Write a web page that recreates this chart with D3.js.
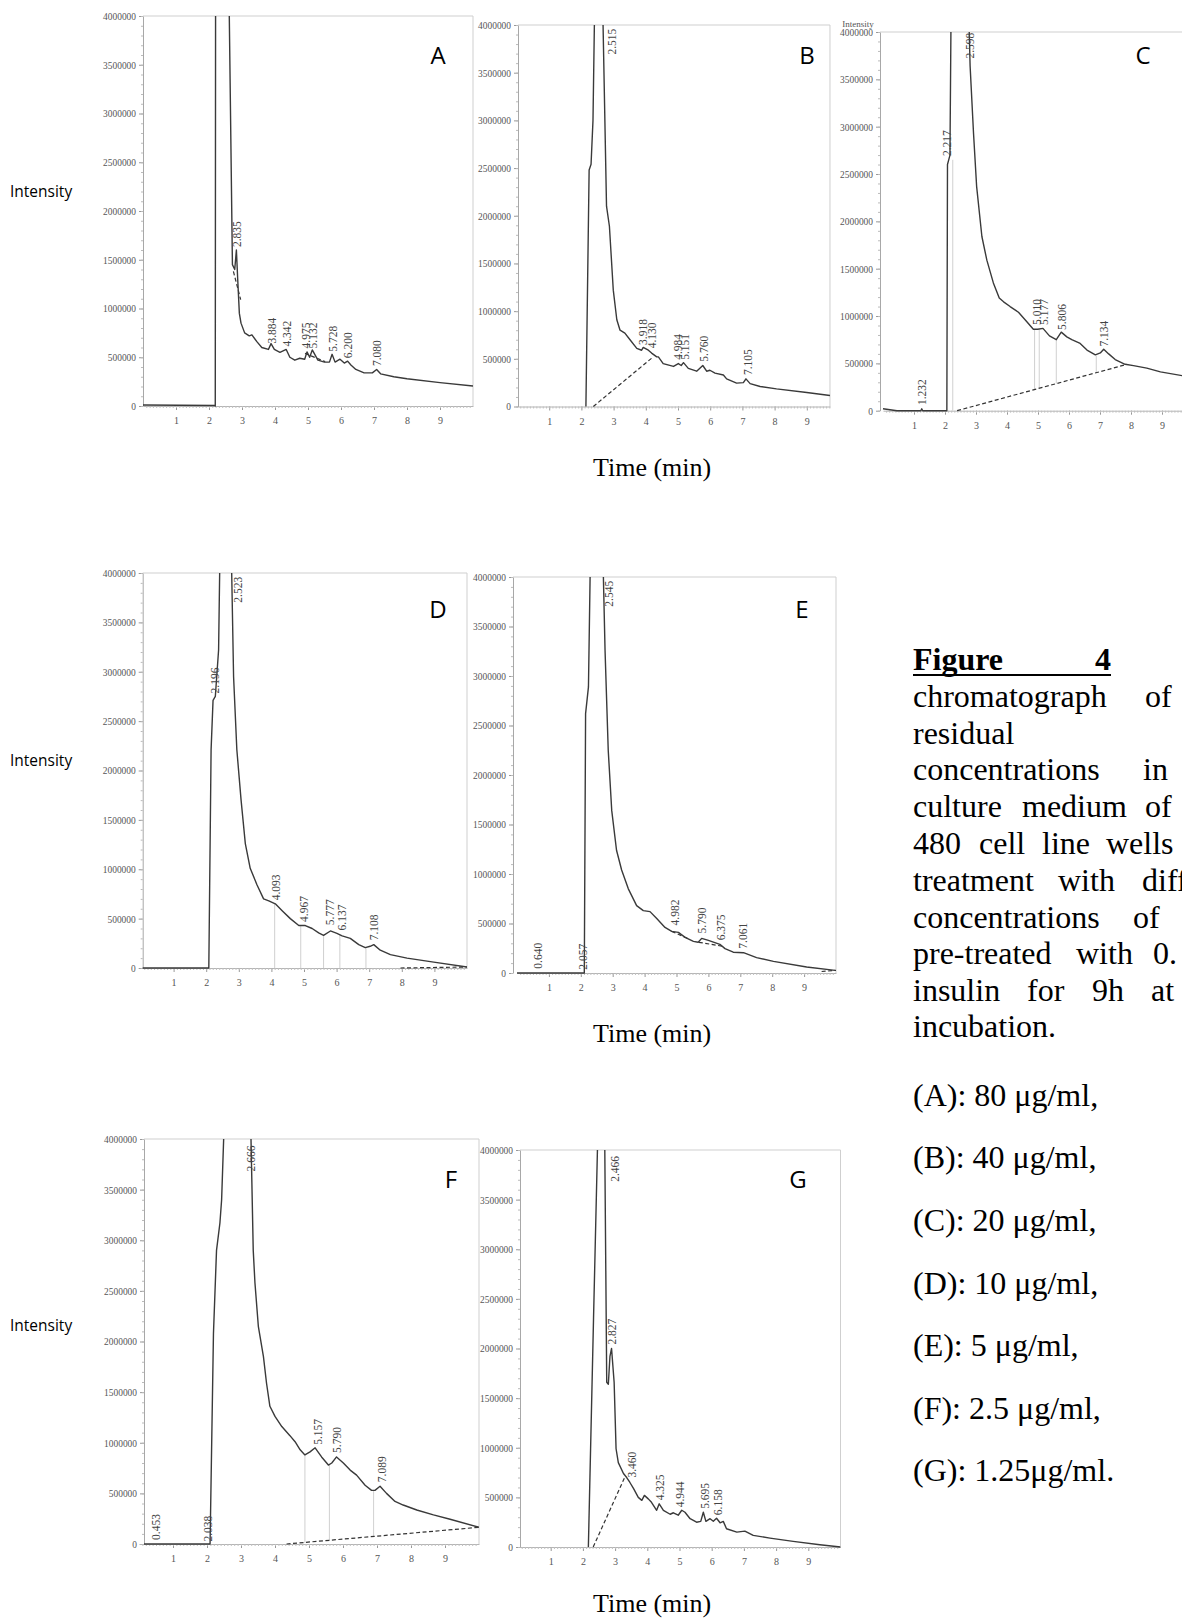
<!DOCTYPE html>
<html lang="en">
<head>
<meta charset="UTF-8">
<title>Figure 4 - chromatographs</title>
<script src="https://d3js.org/d3.v7.min.js"></script>
<style>
  body { margin: 0; background: #fff; }
  .trace { fill: none; stroke: #3a3a3a; stroke-width: 1.4; stroke-linejoin: round; }
  .base { fill: none; stroke: #333; stroke-width: 1.2; stroke-dasharray: 4,2.5; }
  .drop { stroke: #c4c4c4; stroke-width: 0.8; }
  .frame { stroke: #cfcfcf; stroke-width: 1; }
  .peak { font-family: "Liberation Serif", serif; font-size: 11.5px; fill: #444; }
  .tick text { font-family: "Liberation Serif", serif; fill: #555; }
  .caption { font-family: "Liberation Serif", serif; font-size: 32px; fill: #000; }
  .ylab { font-family: "Open Sans", sans-serif; font-size: 15.5px; fill: #000; }
  .letter { font-family: "Open Sans", sans-serif; font-size: 24px; fill: #000; }
  .xtitle { font-family: "Liberation Serif", serif; font-size: 26px; fill: #000; }
</style>
</head>
<body>
<div id="chart"></div>
<script>
// ---- data ----
const yTicks = [0, 500000, 1000000, 1500000, 2000000, 2500000, 3000000, 3500000, 4000000];
const xTicks = [1, 2, 3, 4, 5, 6, 7, 8, 9];

// traces: [time (min), intensity]; values above 4000000 are cut at the frame
const traceA = [[0,10000],[2.17,5000],[2.19,0],[2.20,4400000],[2.60,4400000],[2.71,1450000],[2.78,1400000],[2.83,1600000],[2.87,1300000],[2.92,950000],[2.97,850000],[3.08,750000],[3.22,720000],[3.30,730000],[3.45,660000],[3.60,600000],[3.80,580000],[3.88,640000],[3.98,580000],[4.15,550000],[4.34,580000],[4.45,500000],[4.60,470000],[4.75,490000],[4.90,480000],[4.97,555000],[5.05,500000],[5.13,575000],[5.30,470000],[5.50,450000],[5.65,450000],[5.73,530000],[5.82,450000],[5.97,480000],[6.10,440000],[6.20,460000],[6.30,420000],[6.45,375000],[6.70,340000],[6.95,340000],[7.08,375000],[7.20,330000],[7.60,300000],[8.0,280000],[9.0,240000],[10.0,205000]];
const traceB = [[2.14,0],[2.24,2480000],[2.30,2540000],[2.36,3000000],[2.42,4400000],[2.65,4400000],[2.78,2100000],[2.87,1890000],[2.99,1220000],[3.10,910000],[3.20,800000],[3.35,770000],[3.51,700000],[3.72,610000],[3.87,590000],[3.92,620000],[4.08,590000],[4.18,560000],[4.34,520000],[4.39,520000],[4.54,450000],[4.86,420000],[5.01,450000],[5.10,430000],[5.17,460000],[5.32,400000],[5.58,370000],[5.77,430000],[5.89,370000],[5.99,380000],[6.15,350000],[6.41,330000],[6.51,290000],[6.82,245000],[7.03,250000],[7.11,290000],[7.24,240000],[7.55,210000],[8.06,185000],[9.0,147000],[9.72,115000]];
const traceC = [[0,20000],[0.45,0],[1.22,0],[1.25,20000],[1.28,0],[2.06,0],[2.08,2600000],[2.12,2650000],[2.16,2700000],[2.20,4400000],[2.75,4400000],[2.81,3640000],[2.92,2930000],[3.02,2370000],[3.19,1840000],[3.35,1590000],[3.56,1350000],[3.75,1190000],[3.89,1150000],[4.10,1100000],[4.37,1040000],[4.64,940000],[4.85,860000],[4.99,860000],[5.16,870000],[5.37,790000],[5.59,750000],[5.75,830000],[5.93,780000],[6.09,750000],[6.36,710000],[6.58,640000],[6.85,590000],[7.01,610000],[7.12,650000],[7.28,600000],[7.49,540000],[7.81,490000],[8.08,476000],[8.51,450000],[8.95,410000],[9.66,370000]];
const traceD = [[0,0],[2.08,0],[2.15,2210000],[2.21,2710000],[2.28,2750000],[2.38,3220000],[2.43,4400000],[2.76,4400000],[2.84,2950000],[2.94,2210000],[3.07,1700000],[3.20,1260000],[3.35,1010000],[3.56,840000],[3.76,700000],[3.92,680000],[4.12,650000],[4.33,580000],[4.58,500000],[4.84,430000],[5.04,430000],[5.25,400000],[5.45,355000],[5.60,330000],[5.81,375000],[6.01,350000],[6.17,325000],[6.42,300000],[6.68,237000],[6.88,206000],[7.03,220000],[7.14,237000],[7.34,180000],[7.65,135000],[8.16,100000],[8.98,60000],[10.0,10000]];
const traceE = [[0,0],[2.11,0],[2.15,2620000],[2.24,2890000],[2.31,4400000],[2.68,4400000],[2.76,3260000],[2.86,2250000],[2.97,1640000],[3.12,1240000],[3.28,1040000],[3.49,850000],[3.75,680000],[3.96,630000],[4.17,620000],[4.38,550000],[4.64,460000],[4.85,420000],[5.06,410000],[5.27,360000],[5.53,320000],[5.68,310000],[5.79,350000],[6.00,330000],[6.36,290000],[6.52,246000],[6.78,210000],[7.10,205000],[7.51,155000],[8.04,118000],[9.08,60000],[9.97,27000]];
const traceF = [[0,0],[2.09,0],[2.19,2080000],[2.28,2900000],[2.38,3170000],[2.43,3400000],[2.53,4400000],[3.27,4400000],[3.36,2900000],[3.41,2580000],[3.51,2150000],[3.66,1850000],[3.75,1590000],[3.85,1360000],[4.00,1260000],[4.20,1160000],[4.44,1070000],[4.59,1010000],[4.74,930000],[4.88,880000],[5.03,910000],[5.18,950000],[5.37,860000],[5.57,780000],[5.67,800000],[5.81,860000],[6.01,800000],[6.21,730000],[6.40,680000],[6.65,580000],[6.84,530000],[6.94,530000],[7.09,570000],[7.28,500000],[7.53,420000],[7.77,385000],[8.17,336000],[8.66,287000],[9.15,244000],[10.0,165000]];
const traceG = [[2.17,0],[2.33,2300000],[2.48,4400000],[2.67,4400000],[2.74,1660000],[2.79,1640000],[2.84,1920000],[2.89,2000000],[2.97,1660000],[3.03,990000],[3.10,850000],[3.26,740000],[3.36,700000],[3.46,650000],[3.57,590000],[3.72,500000],[3.83,470000],[3.91,520000],[4.03,485000],[4.13,450000],[4.29,370000],[4.37,435000],[4.50,370000],[4.71,330000],[4.81,345000],[4.96,320000],[5.07,370000],[5.17,350000],[5.33,285000],[5.53,250000],[5.66,258000],[5.74,350000],[5.82,258000],[5.95,285000],[6.05,260000],[6.15,290000],[6.26,244000],[6.36,258000],[6.46,184000],[6.78,150000],[7.03,160000],[7.29,117000],[7.81,90000],[8.53,57000],[9.36,23000],[10.0,0]];

// peak labels: [retention time text, time, intensity at foot of label]
const peaksA = [["2.835",2.86,1630000],["3.884",3.90,640000],["4.342",4.35,610000],["4.975",4.94,590000],["5.132",5.16,590000],["5.728",5.75,557000],["6.200",6.22,490000],["7.080",7.08,410000]];
const peaksB = [["2.515",2.94,3690000],["3.918",3.90,646000],["4.130",4.18,610000],["4.984",4.99,490000],["5.151",5.22,490000],["5.760",5.82,470000],["7.105",7.18,330000]];
const peaksC = [["1.232",1.25,60000],["2.217",2.06,2690000],["2.598",2.81,3720000],["5.010",4.98,906000],["5.177",5.18,906000],["5.806",5.79,853000],["7.134",7.12,677000]];
const peaksD = [["2.196",2.26,2780000],["2.523",2.98,3700000],["4.093",4.15,686000],["4.967",5.01,467000],["5.777",5.79,433000],["6.137",6.17,380000],["7.108",7.16,280000]];
const peaksE = [["0.640",0.65,44000],["2.057",2.06,34000],["2.545",2.89,3700000],["4.982",4.95,480000],["5.790",5.81,400000],["6.375",6.40,330000],["7.061",7.07,246000]];
const peaksF = [["0.453",0.50,40000],["2.038",2.04,24000],["2.666",3.28,3680000],["5.157",5.25,980000],["5.790",5.83,900000],["7.089",7.14,610000]];
const peaksG = [["2.466",3.00,3680000],["2.827",2.89,2040000],["3.460",3.51,700000],["4.325",4.39,470000],["4.944",5.02,400000],["5.695",5.79,385000],["6.158",6.21,320000]];

// dashed integration baselines: [t1, I1, t2, I2]
const baseA = [[2.74,1380000,2.96,1090000],[4.91,540000,5.52,455000]];
const baseB = [[2.37,0,4.23,520000]];
const baseC = [[2.39,0,7.87,490000]];
const baseD = [[7.96,0,10.0,10000]];
const baseE = [[4.85,420000,5.35,350000],[5.70,310000,6.45,270000],[9.55,15000,10.0,27000]];
const baseF = [[4.34,0,10.0,165000]];
const baseG = [[2.32,0,3.31,710000]];

// thin peak-split drop lines: [t, I bottom, I top]
const dropsC = [[2.25,0,2650000],[4.89,224000,860000],[5.04,237000,860000],[5.59,286000,750000],[6.88,400000,580000]];
const dropsD = [[4.10,0,650000],[4.90,0,430000],[5.60,0,330000],[6.10,0,335000],[6.90,0,206000]];
const dropsF = [[4.88,10000,880000],[5.60,35000,780000],[6.90,75000,530000]];

const captionLines = [["chromatograph","of"],["residual"],["concentrations","in"],["culture","medium","of"],["480","cell","line","wells"],["treatment","with","diff"],["concentrations","of"],["pre-treated","with","0."],["insulin","for","9h","at"],["incubation."]];
const doseLabels = ["(A): 80 μg/ml,","(B): 40 μg/ml,","(C): 20 μg/ml,","(D): 10 μg/ml,","(E): 5 μg/ml,","(F): 2.5 μg/ml,","(G): 1.25μg/ml."];

// ---- layout ----
const W = 1182, H = 1622;
const svg = d3.select("#chart").append("svg")
    .attr("width", W).attr("height", H)
    .style("display", "block");
svg.append("rect").attr("width", W).attr("height", H).attr("fill", "#fff");

const panels = [
  {name:"A", trace:traceA, peaks:peaksA, base:baseA, drops:[], x0:143, k:33, tMax:10, yTop:16, yZero:406, axisX:143, lx:438, ly:64},
  {name:"B", trace:traceB, peaks:peaksB, base:baseB, drops:[], x0:517, k:32.2, tMax:9.72, yTop:25, yZero:406.5, axisX:518, lx:807, ly:64},
  {name:"C", trace:traceC, peaks:peaksC, base:baseC, drops:dropsC, x0:883, k:31, tMax:9.7, yTop:32, yZero:410.7, axisX:880, lx:1143, ly:64},
  {name:"D", trace:traceD, peaks:peaksD, base:baseD, drops:dropsD, x0:141, k:32.6, tMax:10, yTop:573, yZero:968, axisX:142.7, lx:438, ly:618},
  {name:"E", trace:traceE, peaks:peaksE, base:baseE, drops:[], x0:517, k:31.9, tMax:10, yTop:577, yZero:973, axisX:513, lx:802, ly:618},
  {name:"F", trace:traceF, peaks:peaksF, base:baseF, drops:dropsF, x0:139, k:34, tMax:10, yTop:1139, yZero:1544, axisX:144, lx:451, ly:1188},
  {name:"G", trace:traceG, peaks:peaksG, base:baseG, drops:[], x0:518.5, k:32.2, tMax:10, yTop:1150, yZero:1547, axisX:520, lx:798, ly:1188}
];

const defs = svg.append("defs");

function drawPanel(p) {
  const x = d3.scaleLinear().domain([0, p.tMax]).range([p.x0, p.x0 + p.k * p.tMax]);
  const y = d3.scaleLinear().domain([0, 4000000]).range([p.yZero, p.yTop]);
  const right = x(p.tMax);
  const g = svg.append("g").attr("class", "panel-" + p.name);

  defs.append("clipPath").attr("id", "clip" + p.name)
    .append("rect")
    .attr("x", p.axisX).attr("y", p.yTop)
    .attr("width", right - p.axisX).attr("height", p.yZero - p.yTop + 4);

  // frame top + right
  g.append("line").attr("class", "frame")
    .attr("x1", p.axisX).attr("x2", right).attr("y1", p.yTop).attr("y2", p.yTop);
  g.append("line").attr("class", "frame")
    .attr("x1", right).attr("x2", right).attr("y1", p.yTop).attr("y2", p.yZero);

  // y axis
  const ya = g.append("g").attr("transform", `translate(${p.axisX},0)`)
    .call(d3.axisLeft(y).tickValues(yTicks).tickSize(4).tickSizeOuter(0).tickFormat(d3.format("d")));
  ya.select(".domain").attr("stroke", "#a8a8a8");
  ya.selectAll(".tick line").attr("stroke", "#999");
  ya.selectAll(".tick text")
    .attr("font-size", 10.5)
    .attr("textLength", d => String(d).length * 4.7)
    .attr("lengthAdjust", "spacingAndGlyphs");
  const ym = g.append("g").attr("transform", `translate(${p.axisX},0)`)
    .call(d3.axisLeft(y).tickValues(d3.range(0, 4000001, 100000)).tickSize(2).tickFormat(""));
  ym.select(".domain").remove();
  ym.selectAll(".tick line").attr("stroke", "#bbb");

  // x axis
  const xa = g.append("g").attr("transform", `translate(0,${p.yZero})`)
    .call(d3.axisBottom(x).tickValues(xTicks).tickSize(4).tickSizeOuter(0).tickPadding(7));
  xa.select(".domain").attr("stroke", "#b5b5b5");
  xa.selectAll(".tick line").attr("stroke", "#999");
  xa.selectAll(".tick text").attr("font-size", 10);
  const xm = g.append("g").attr("transform", `translate(0,${p.yZero})`)
    .call(d3.axisBottom(x).tickValues(d3.range(0.1, p.tMax, 0.1)).tickSize(2).tickFormat(""));
  xm.select(".domain").remove();
  xm.selectAll(".tick line").attr("stroke", "#c0c0c0");

  const inner = g.append("g").attr("clip-path", `url(#clip${p.name})`);

  inner.selectAll(".drop").data(p.drops).enter().append("line")
    .attr("class", "drop")
    .attr("x1", d => x(d[0])).attr("x2", d => x(d[0]))
    .attr("y1", d => y(d[1])).attr("y2", d => y(d[2]));

  inner.selectAll(".base").data(p.base).enter().append("line")
    .attr("class", "base")
    .attr("x1", d => x(d[0])).attr("y1", d => y(d[1]))
    .attr("x2", d => x(d[2])).attr("y2", d => y(d[3]));

  const line = d3.line().x(d => x(d[0])).y(d => y(d[1]));
  inner.append("path").datum(p.trace).attr("class", "trace").attr("d", line);

  g.selectAll(".peak").data(p.peaks).enter().append("text")
    .attr("class", "peak")
    .attr("transform", d => `translate(${x(d[1]) + 4},${y(d[2])}) rotate(-90)`)
    .text(d => d[0]);

  g.append("text").attr("class", "letter")
    .attr("x", p.lx).attr("y", p.ly).attr("text-anchor", "middle")
    .text(p.name);
}

panels.forEach(drawPanel);

// small "Intensity" heading on panel C
svg.append("text")
  .attr("x", 858).attr("y", 27).attr("text-anchor", "middle")
  .attr("font-family", "Liberation Serif, serif").attr("font-size", 9).attr("fill", "#555")
  .text("Intensity");

// axis titles
[197, 766, 1331].forEach(yy => {
  svg.append("text").attr("class", "ylab").attr("x", 10).attr("y", yy).text("Intensity");
});
[476, 1042, 1612].forEach(yy => {
  svg.append("text").attr("class", "xtitle").attr("x", 593).attr("y", yy).text("Time (min)");
});

// caption (justified lines: one x per word)
const capX = 913;
const fig = svg.append("text").attr("class", "caption").attr("y", 669.6).attr("font-weight", "bold");
fig.append("tspan").attr("x", capX).text("Figure");
fig.append("tspan").attr("x", 1095).text("4");
svg.append("line").attr("x1", capX).attr("x2", 1111).attr("y1", 675).attr("y2", 675)
  .attr("stroke", "#000").attr("stroke-width", 2.2);

const wordX = [[913,1145],[913],[913,1143],[913,1022,1145],[913,979,1042,1106],[913,1058,1142],[913,1133],[913,1076,1153],[913,1027,1092,1151]];
wordX.push([913]);
const lineY = [707.1, 743.9, 780.4, 817.1, 854.3, 891.1, 927.9, 964.3, 1000.9, 1037.4];
captionLines.forEach((words, i) => {
  const t = svg.append("text").attr("class", "caption").attr("y", lineY[i]);
  words.forEach((w, j) => t.append("tspan").attr("x", wordX[i][j]).text(w));
});

doseLabels.forEach((s, i) => {
  svg.append("text").attr("class", "caption")
    .attr("x", capX).attr("y", 1105.7 + i * 62.6).text(s);
});
</script>
</body>
</html>
